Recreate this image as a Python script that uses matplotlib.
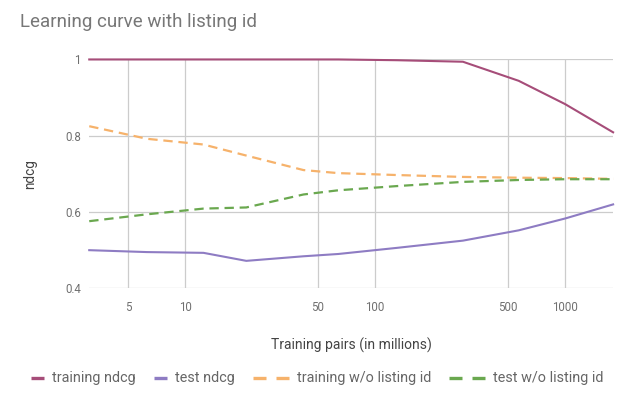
import matplotlib
matplotlib.use("Agg")
import matplotlib.pyplot as plt
from matplotlib.lines import Line2D
from matplotlib.offsetbox import DrawingArea, TextArea, HPacker, AnchoredOffsetbox
from matplotlib.ticker import FixedLocator, NullLocator

plt.rcParams['font.family'] = ['Roboto', 'DejaVu Sans']

# training pairs, in millions
pairs = [3.13, 6.3, 12.5, 21, 42, 64, 130, 290, 570, 1000, 1790]

train_ndcg = [1.0, 1.0, 1.0, 1.0, 1.0, 1.0, 0.998, 0.994, 0.944, 0.883, 0.809]
test_ndcg = [0.500, 0.495, 0.493, 0.472, 0.484, 0.490, 0.506, 0.525, 0.552, 0.583, 0.620]
train_no_id = [0.825, 0.792, 0.777, 0.748, 0.710, 0.702, 0.697, 0.692, 0.690, 0.689, 0.687]
test_no_id = [0.576, 0.594, 0.609, 0.612, 0.646, 0.657, 0.668, 0.679, 0.684, 0.686, 0.686]

x_ticks = [5, 10, 50, 100, 500, 1000]
y_ticks = [0.4, 0.6, 0.8, 1.0]
y_tick_labels = ['0.4', '0.6', '0.8', '1']

series = [
    ('training ndcg', train_ndcg, '#a64d79', '-'),
    ('test ndcg', test_ndcg, '#8e7cc3', '-'),
    ('training w/o listing id', train_no_id, '#f6b26b', '--'),
    ('test w/o listing id', test_no_id, '#6aa84f', '--'),
]

PX = 72 / 100  # points per pixel at dpi 100

fig = plt.figure(figsize=(6.42, 3.99), dpi=100)
ax = fig.add_axes([0.139, 0.2774, 0.816, 0.5736])

entries = []
for name, vals, color, ls in series:
    if ls == '-':
        ax.plot(pairs, vals, color=color, lw=1.5, clip_on=False, zorder=3)
        w = 13 * PX
        sw = Line2D([0, w], [4, 4], color=color, lw=2.4, solid_capstyle='butt')
    else:
        ax.plot(pairs, vals, color=color, lw=1.6, linestyle=(0, (4.2, 2.6)),
                clip_on=False, zorder=3)
        w = 36 * PX
        sw = Line2D([0, w], [4, 4], color=color, lw=2.4,
                    linestyle=(0, (13 * PX / 2.4, 10 * PX / 2.4)), dash_capstyle='butt')
    da = DrawingArea(w, 8, 0, 0)
    da.add_artist(sw)
    ta = TextArea(name, textprops=dict(fontsize=10.4, color='#666666'))
    entries.append(HPacker(children=[da, ta], align='center', pad=0, sep=8 * PX))

legend_box = HPacker(children=entries, align='center', pad=0, sep=18 * PX)
fig.add_artist(AnchoredOffsetbox(loc='center', child=legend_box, pad=0, frameon=False,
                                 bbox_to_anchor=(0.4946, 0.053),
                                 bbox_transform=fig.transFigure))

ax.set_xscale('log')
ax.set_xlim(pairs[0], pairs[-1])
ax.set_ylim(0.4, 1.0)
ax.xaxis.set_major_locator(FixedLocator(x_ticks))
ax.xaxis.set_minor_locator(NullLocator())
ax.set_xticklabels([str(t) for t in x_ticks])
ax.set_yticks(y_ticks)
ax.set_yticklabels(y_tick_labels)
ax.tick_params(length=0, labelsize=8.3, colors='#707070')
ax.tick_params(axis='x', pad=9)
ax.tick_params(axis='y', pad=6)
ax.grid(True, color='#cccccc', lw=0.9)
for s in ax.spines.values():
    s.set_visible(False)
ax.set_axisbelow(True)

ax.set_ylabel('ndcg', fontsize=9.8, color='#444444', labelpad=20)
ax.set_xlabel('Training pairs (in millions)', fontsize=10, color='#444444', labelpad=17)
fig.text(0.031, 0.945, 'Learning curve with listing id', fontsize=13.5,
         color='#777777', va='center', ha='left')

fig.savefig('out.png', dpi=100)
